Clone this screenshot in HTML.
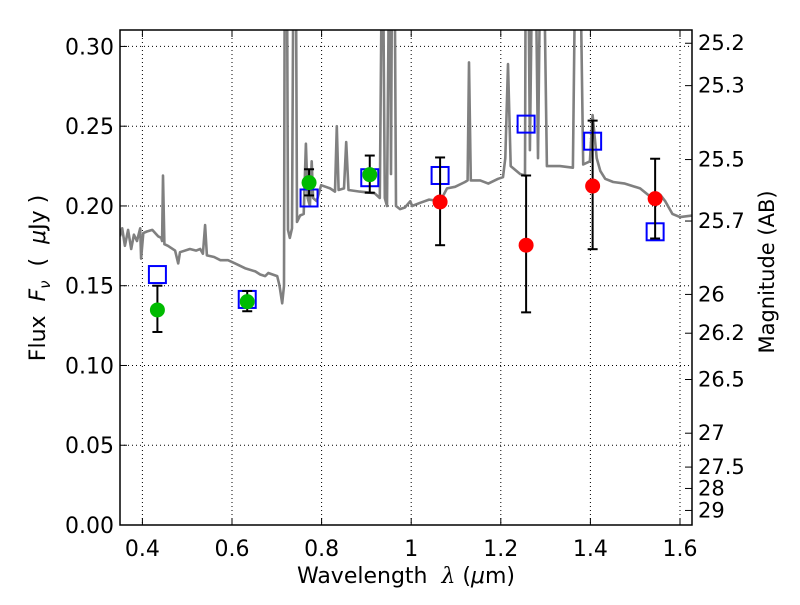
<!DOCTYPE html>
<html><head><meta charset="utf-8"><style>
body{margin:0;background:#fff}
svg text{font-family:"DejaVu Sans","Liberation Sans",sans-serif;fill:#000}
</style></head><body>
<svg id="chart" width="800" height="600" xmlns="http://www.w3.org/2000/svg"></svg>
<script>
const specLam=[0.350,0.355,0.361,0.368,0.375,0.381,0.388,0.395,0.397,0.402,0.410,0.422,0.435,0.442,0.444,0.446,0.449,0.457,0.473,0.480,0.484,0.506,0.520,0.529,0.535,0.540,0.544,0.560,0.574,0.591,0.607,0.629,0.652,0.663,0.674,0.681,0.701,0.706,0.712,0.716,0.718,0.722,0.725,0.729,0.734,0.738,0.742,0.745,0.752,0.760,0.765,0.769,0.774,0.778,0.781,0.789,0.799,0.819,0.830,0.834,0.838,0.850,0.855,0.860,0.885,0.918,0.930,0.936,0.941,0.946,0.952,0.955,0.958,0.962,0.966,0.975,0.986,0.998,1.002,1.020,1.040,1.065,1.080,1.098,1.120,1.126,1.129,1.133,1.154,1.172,1.194,1.205,1.210,1.216,1.222,1.243,1.254,1.256,1.260,1.265,1.272,1.276,1.283,1.290,1.294,1.303,1.332,1.361,1.368,1.375,1.384,1.399,1.405,1.414,1.422,1.433,1.451,1.477,1.511,1.533,1.556,1.567,1.583,1.600,1.627];
const specFlux=[0.181,0.186,0.175,0.185,0.173,0.182,0.178,0.186,0.167,0.183,0.184,0.185,0.181,0.180,0.178,0.219,0.176,0.175,0.172,0.164,0.171,0.173,0.172,0.173,0.170,0.188,0.169,0.168,0.166,0.166,0.164,0.161,0.159,0.157,0.156,0.158,0.156,0.150,0.139,0.150,0.40,0.40,0.185,0.180,0.186,0.40,0.40,0.190,0.194,0.195,0.239,0.205,0.200,0.228,0.205,0.203,0.213,0.211,0.209,0.250,0.210,0.211,0.240,0.210,0.209,0.208,0.205,0.40,0.205,0.200,0.40,0.22,0.40,0.40,0.200,0.198,0.199,0.203,0.200,0.202,0.204,0.203,0.211,0.212,0.215,0.216,0.290,0.216,0.216,0.214,0.217,0.218,0.230,0.289,0.225,0.220,0.219,0.40,0.40,0.235,0.40,0.40,0.230,0.40,0.40,0.225,0.225,0.224,0.40,0.40,0.226,0.228,0.257,0.230,0.222,0.217,0.215,0.214,0.211,0.206,0.207,0.203,0.195,0.193,0.194];
const greenLam=[0.4335,0.634,0.772,0.9075];
const greenFlux=[0.1348,0.140,0.2146,0.2196];
const greenErrLo=[0.121,0.134,0.2066,0.2083];
const greenErrHi=[0.150,0.1467,0.223,0.2316];
const redLam=[1.0645,1.2565,1.405,1.5445];
const redFlux=[0.2025,0.1754,0.2125,0.2046];
const redErrLo=[0.1754,0.1333,0.1729,0.1796];
const redErrHi=[0.2304,0.2191,0.2535,0.2296];
const boxLam=[0.4335,0.634,0.772,0.9075,1.0645,1.2565,1.405,1.5445];
const boxFlux=[0.157,0.1414,0.205,0.2177,0.2191,0.2513,0.2406,0.1838];
const xTicks=[0.4,0.6,0.8,1.0,1.2,1.4,1.6];
const xTickLabels=["0.4","0.6","0.8","1","1.2","1.4","1.6"];
const yTicks=[0,0.05,0.10,0.15,0.20,0.25,0.30];
const yTickLabels=["0.00","0.05","0.10","0.15","0.20","0.25","0.30"];
const magTicks=[25.2,25.3,25.5,25.7,26,26.2,26.5,27,27.5,28,29];
const magTickLabels=["25.2","25.3","25.5","25.7","26","26.2","26.5","27","27.5","28","29"];

const L=120,R=692,T=30,B=525;
const xmin=0.35,xmax=1.6268,ymin=0,ymax=0.3103;
const X=v=>L+(v-xmin)/(xmax-xmin)*(R-L);
const Y=v=>B-(v-ymin)/(ymax-ymin)*(B-T);
const NS="http://www.w3.org/2000/svg";
const svg=document.getElementById('chart');
function mk(tag,attrs,parent){const e=document.createElementNS(NS,tag);for(const k in attrs)e.setAttribute(k,attrs[k]);(parent||svg).appendChild(e);return e;}

const defs=mk('defs',{});
const cp=mk('clipPath',{id:'clip'},defs);
mk('rect',{x:L,y:T,width:R-L,height:B-T},cp);

xTicks.forEach(t=>{const l=mk('line',{x1:X(t),x2:X(t),y1:T,y2:B,stroke:'#000','stroke-width':1,'stroke-dasharray':'1,3'});

});
yTicks.forEach(t=>{const l=mk('line',{x1:L,x2:R,y1:Y(t),y2:Y(t),stroke:'#000','stroke-width':1,'stroke-dasharray':'1,3'});

});

const g=mk('g',{'clip-path':'url(#clip)'});
const pts=specLam.map((l,i)=>X(l).toFixed(1)+','+Y(specFlux[i]).toFixed(1)).join(' ');
const sp=mk('polyline',{points:pts,fill:'none',stroke:'#808080','stroke-width':2.6,'stroke-linejoin':'round'},g);



boxLam.forEach((l,i)=>{const r=mk('rect',{x:X(l)-8.5,y:Y(boxFlux[i])-8.5,width:17,height:17,fill:'none',stroke:'#0000ff','stroke-width':2},g);

});

function pointsWithErr(lams,fl,lo,hi,color,name){
  lams.forEach((l,i)=>{
    const x=X(l);
    const e=mk('g',{},g);
    
    
    mk('line',{x1:x,x2:x,y1:Y(lo[i]),y2:Y(hi[i]),stroke:'#000','stroke-width':2},e);
    mk('line',{x1:x-5,x2:x+5,y1:Y(lo[i]),y2:Y(lo[i]),stroke:'#000','stroke-width':2},e);
    mk('line',{x1:x-5,x2:x+5,y1:Y(hi[i]),y2:Y(hi[i]),stroke:'#000','stroke-width':2},e);
    const c=mk('circle',{cx:x,cy:Y(fl[i]),r:7.5,fill:color},g);
    
    
  });
}
pointsWithErr(greenLam,greenFlux,greenErrLo,greenErrHi,'#00bb00','green-photometry');
pointsWithErr(redLam,redFlux,redErrLo,redErrHi,'#ff0000','red-photometry');

const fr=mk('rect',{x:L,y:T,width:R-L,height:B-T,fill:'none',stroke:'#000','stroke-width':1.5});



xTicks.forEach((t,i)=>{
  mk('line',{x1:X(t),x2:X(t),y1:B,y2:B-7,stroke:'#000'});
  mk('line',{x1:X(t),x2:X(t),y1:T,y2:T+7,stroke:'#000'});
  const tx=mk('text',{x:X(t),y:B+31,'font-size':22,'text-anchor':'middle'});
  tx.textContent=xTickLabels[i];
  
  
});
yTicks.forEach((t,i)=>{
  mk('line',{x1:L,x2:L+7,y1:Y(t),y2:Y(t),stroke:'#000'});
  const tx=mk('text',{x:L-6,y:Y(t)+8,'font-size':22,'text-anchor':'end'});
  tx.textContent=yTickLabels[i];
  
  
});
magTicks.forEach((m,i)=>{
  const f=Math.pow(10,(23.9-m)/2.5);
  const y=Y(f);
  mk('line',{x1:R,x2:R-7,y1:y,y2:y,stroke:'#000'});
  const tx=mk('text',{x:R+6,y:y+7,'font-size':21,'text-anchor':'start'});
  tx.textContent=magTickLabels[i];
  
  
});
</script>
<svg style="position:absolute;left:0;top:0" width="800" height="600" xmlns="http://www.w3.org/2000/svg">
<text x="406" y="583" font-size="22" text-anchor="middle" style="font-family:'DejaVu Sans','Liberation Sans',sans-serif;white-space:pre">Wavelength  <tspan font-style="italic" font-family="'DejaVu Serif',serif">λ</tspan> (<tspan font-style="italic">μ</tspan>m)</text>
<text transform="translate(45,278) rotate(-90)" font-size="22" text-anchor="middle" style="font-family:'DejaVu Sans','Liberation Sans',sans-serif;white-space:pre">Flux  <tspan font-style="italic">F</tspan><tspan font-style="italic" font-size="15" dy="5">ν</tspan><tspan dy="-5">  (  </tspan><tspan font-style="italic">μ</tspan>Jy )</text>
<text transform="translate(774,272) rotate(-90)" font-size="21" text-anchor="middle" style="font-family:'DejaVu Sans','Liberation Sans',sans-serif">Magnitude (AB)</text>
</svg>
</body></html>
